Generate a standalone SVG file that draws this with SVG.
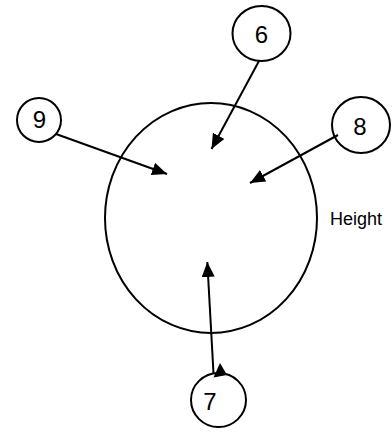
<svg xmlns="http://www.w3.org/2000/svg" width="392" height="433" viewBox="0 0 392 433">
<style>
.n{fill:#fff;stroke:#000;stroke-width:2}
.t{font-family:"Liberation Sans",Arial,sans-serif;font-size:24px;fill:#000;text-anchor:middle}
.c{stroke:#000;stroke-width:2;fill:none;marker-end:url(#ah)}
</style>
<defs>
<marker id="ah" markerUnits="userSpaceOnUse" markerWidth="15" markerHeight="13" refX="15" refY="6.5" orient="auto" viewBox="0 0 15 13">
<path d="M0,0 L15,6.5 L0,13 z" fill="#000"/>
</marker>
</defs>
<rect width="392" height="433" fill="#fff"/>
<g id="main"><ellipse class="n" cx="211" cy="218" rx="106" ry="115" fill="none"/></g>
<g id="n6"><ellipse class="n" cx="261.5" cy="33.5" rx="29" ry="27.5"/><text class="t" x="261.5" y="42.5">6</text></g>
<g id="n9"><ellipse class="n" cx="39" cy="120" rx="22" ry="22"/><text class="t" x="39.5" y="128">9</text></g>
<g id="n8"><ellipse class="n" cx="361" cy="125" rx="29" ry="28"/><text class="t" x="360" y="134.5">8</text></g>
<g id="n7"><ellipse class="n" cx="218.5" cy="400" rx="27.5" ry="27"/><text class="t" x="210" y="409.5">7</text></g>
<g id="height"><text x="330" y="225" style="font-family:'Liberation Sans',Arial,sans-serif;font-size:18px;fill:#000">Height</text></g>
<g id="connectors">
<line class="c" x1="259" y1="61" x2="211.5" y2="149"/>
<line class="c" x1="56" y1="134" x2="167" y2="174"/>
<line class="c" x1="338" y1="135" x2="250" y2="183"/>
<line class="c" x1="213.5" y1="373" x2="207.3" y2="262"/>
<polygon points="220,363 213.5,377.5 227,375" fill="#000"/>
</g>
</svg>
